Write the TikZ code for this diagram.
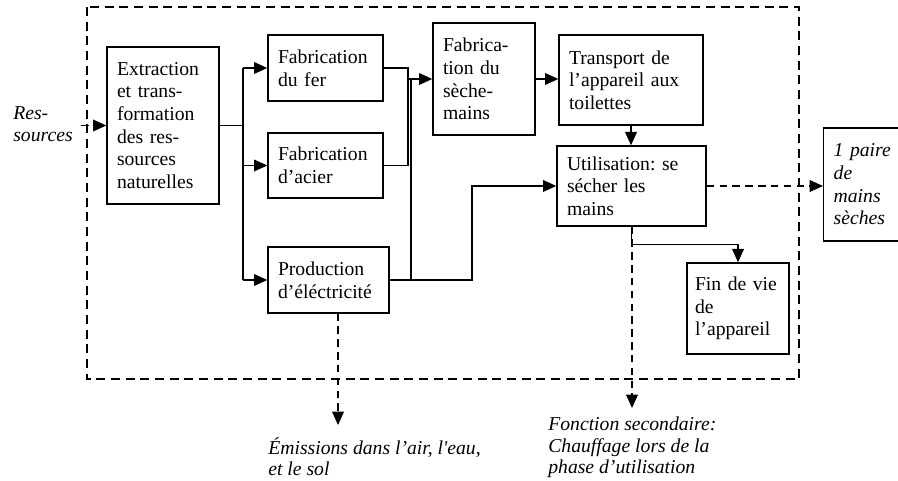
\documentclass[tikz,border=0pt]{standalone}
\usepackage{fontspec}
\setmainfont{Liberation Serif}
\usetikzlibrary{arrows.meta}
\tikzset{
  procbox/.style={draw,line width=0.8pt,align=left,inner xsep=6pt,inner ysep=3pt},
  outtext/.style={inner sep=0pt,align=left,anchor=north west,font=\fontsize{11.8}{12.9}\selectfont\frenchspacing\itshape},
  wire/.style={line width=0.9pt},
  flow/.style={wire,-{Triangle[length=8pt,width=7pt]}},
  dashflow/.style={flow,dash pattern=on 4.5pt off 3.2pt},
  sysbound/.style={line width=0.8pt,dash pattern=on 5.4pt off 3.4pt}
}
\begin{document}
\begin{tikzpicture}[x=0.6pt,y=-0.6pt,font=\fontsize{11.8}{13.6}\selectfont\frenchspacing]
  \clip (0,0) rectangle (898,481);
  % system boundary
  \draw[sysbound] (87,7) rectangle (799,379);

  \node[procbox,text width=55.2pt,minimum height=94.2pt] (extr) at (163,125.5) {Extraction\\ et trans-\\ formation\\ des res-\\ sources\\ naturelles};
  \node[procbox,text width=57pt,minimum height=39.6pt] (fer) at (325.5,68) {Fabrication\\ du fer};
  \node[procbox,text width=57pt,minimum height=39pt] (acier) at (325.5,165.5) {Fabrication\\ d’acier};
  \node[procbox,text width=60.6pt,minimum height=39.6pt] (prod) at (328.5,280) {Production\\ d’éléctricité};
  \node[procbox,text width=49.2pt,minimum height=67.2pt] (seche) at (484,79) {Fabrica-\\ tion du\\ sèche-\\ mains};
  \node[procbox,text width=74.4pt,minimum height=54pt] (transp) at (631,80) {Transport de\\ l’appareil aux\\ toilettes};
  \node[procbox,text width=77.4pt,minimum height=48pt] (util) at (631.5,186) {Utilisation: se\\ sécher les\\ mains};
  \node[procbox,text width=51.6pt,inner xsep=4.8pt,minimum height=54.6pt] (fin) at (738,308.5) {Fin de vie\\ de\\ l’appareil};
  \node[procbox,text width=60pt,minimum height=67.8pt,anchor=west,font=\fontsize{11.8}{13.6}\selectfont\itshape] (paire) at (823,184.5) {1 paire\\ de\\ mains\\ sèches};

  % flows entering and leaving the system
  \node[outtext,font=\fontsize{11.8}{13.6}\selectfont\itshape] (res) at (13,106) {Res-\\ sources};
  \node[outtext] (emis) at (268,437) {Émissions dans l’air, {\addfontfeatures{Ligatures=TeXOff}l'eau},\\ et le sol};
  \node[outtext] (fonc) at (548,417) {Fonction secondaire:\\ Chauffage lors de la\\ phase d’utilisation};

  \coordinate (bus) at (243,0);
  \coordinate (mfer) at (408,0);
  \coordinate (mprod) at (411,0);
  \coordinate (melec) at (472,0);
  \coordinate (emistip) at (338,425);
  \coordinate (fonctip) at (632,408);

  \draw[dashflow,shorten <=5pt] (res.east |- extr.west) -- (extr.west);
  \draw[wire] (extr.east) -- (extr.east -| bus);
  \draw[wire] (bus |- fer.west) -- (bus |- prod.west);
  \draw[flow] (bus |- fer.west) -- (fer.west);
  \draw[flow] (bus |- acier.west) -- (acier.west);
  \draw[flow] (bus |- prod.west) -- (prod.west);

  \draw[wire] (fer.east) -| (mfer |- acier.east) -- (acier.east);
  \draw[flow] (mfer |- seche.west) -- (seche.west);
  \draw[wire] (prod.east) -| (mprod |- seche.west);
  \draw[flow] (prod.east) -| (melec |- util.west) -- (util.west);

  \draw[flow] (seche.east) -- (seche.east -| transp.west);
  \draw[flow] (transp.south) -- (transp.south |- util.north);
  \draw[flow] (util.south) -- ++(0,18) -| (fin.north);
  \draw[dashflow] (util.east) -- (util.east -| paire.west);

  \draw[dashflow] (prod.south -| emistip) -- (emistip);
  \draw[dashflow] (util.south -| fonctip) -- (fonctip);
\end{tikzpicture}
\end{document}
